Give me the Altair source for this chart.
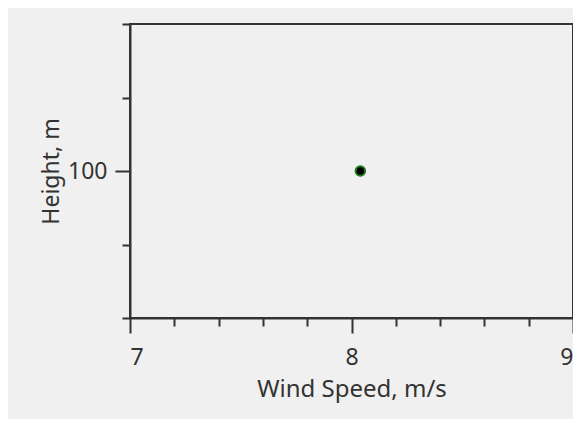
import altair as alt
import pandas as pd

# data
wind_speed = [8.04]
height_m = [100]
x_ticks = [7, 7.2, 7.4, 7.6, 7.8, 8, 8.2, 8.4, 8.6, 8.8, 9]
y_ticks = [50, 75, 100, 125, 150]
x_domain = [7, 9]
y_domain = [50, 150]

df = pd.DataFrame({"speed": wind_speed, "height": height_m})

FONT = "Noto Sans"
INK = "#333333"
x_major = "abs(datum.value - round(datum.value)) < 0.001"
y_major = "abs(datum.value - 100) < 0.001"

x_axis = alt.Axis(
    values=x_ticks,
    title="Wind Speed, m/s",
    labelExpr=f"{x_major} ? format(datum.value, 'd') : ''",
    labelOverlap=False,
    tickSize={"condition": {"test": x_major, "value": 15}, "value": 8},
    tickWidth=2,
    tickColor=INK,
    domainColor=INK,
    domainWidth=2,
    grid=False,
    labelFont=FONT,
    labelFontSize=23,
    labelColor=INK,
    labelPadding=13,
    titleFont=FONT,
    titleFontSize=24,
    titleFontWeight="normal",
    titleColor=INK,
    titlePadding=8,
)

y_axis = alt.Axis(
    values=y_ticks,
    title="Height, m",
    labelExpr=f"{y_major} ? format(datum.value, 'd') : ''",
    labelOverlap=False,
    tickSize={"condition": {"test": y_major, "value": 15}, "value": 8},
    tickWidth=2,
    tickColor=INK,
    domainColor=INK,
    domainWidth=2,
    grid=False,
    labelFont=FONT,
    labelFontSize=23,
    labelColor=INK,
    labelPadding=8,
    titleFont=FONT,
    titleFontSize=23,
    titleFontWeight="normal",
    titleColor=INK,
    titlePadding=4,
)

chart = (
    alt.Chart(df)
    .mark_point(filled=True, size=90, fill="black", stroke="#1f7a1f", strokeWidth=2, opacity=1)
    .encode(
        x=alt.X("speed:Q", scale=alt.Scale(domain=x_domain, nice=False, zero=False), axis=x_axis),
        y=alt.Y("height:Q", scale=alt.Scale(domain=y_domain, nice=False, zero=False), axis=y_axis),
    )
    .properties(
        width=443,
        height=294,
        background="#f0f0f0",
        padding={"left": 122, "top": 16, "right": 0, "bottom": 101},
        autosize=alt.AutoSizeParams(type="none"),
    )
    .configure_view(stroke=INK, strokeWidth=2, fill="#f0f0f0")
)

chart.save("out.html", embed_options={"renderer": "svg", "actions": False})
